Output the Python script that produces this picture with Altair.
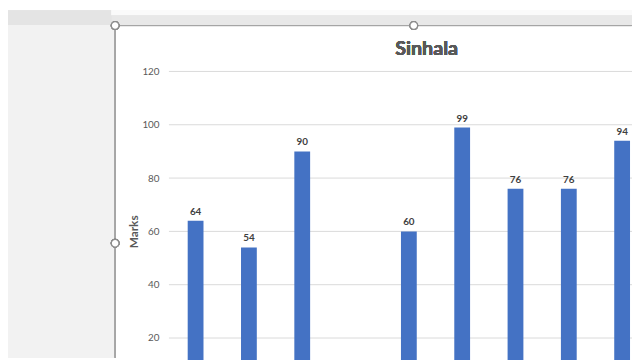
import altair as alt
import pandas as pd

# ---- data ----
students = ["S1", "S2", "S3", "S4", "S5", "S6", "S7", "S8", "S9"]
marks = [64, 54, 90, None, 60, 99, 76, 76, 94]
y_ticks = [0, 20, 40, 60, 80, 100, 120]
title_text = "Sinhala"
y_title = "Marks"

df = pd.DataFrame({"student": students, "marks": marks})
grid_df = pd.DataFrame({"v": y_ticks})

FONT = "Lato"
BAR = "#4472C4"
TXT = "#595959"

W, H = 469, 290

x_enc = alt.X("student:N", sort=students, axis=None,
              scale=alt.Scale(domain=students, range=[0, 486]))
y_scale = alt.Scale(domain=[0, 120], range=[324, 0], nice=False, zero=True)

base = alt.Chart(df)

grid = alt.Chart(grid_df).mark_rule(color="#d9d9d9", strokeWidth=1).encode(
    y=alt.Y("v:Q", scale=y_scale,
            axis=alt.Axis(values=y_ticks, grid=False, ticks=False, domain=False,
                          labelFont=FONT, labelFontSize=10, labelColor=TXT,
                          labelPadding=10, title=y_title, titleFont=FONT,
                          titleFontSize=12, titleFontWeight="bold", titleColor=TXT,
                          titleX=-29, titleY=162, titleAngle=-90,
                          titleBaseline="bottom", titleAlign="center")),
    x=alt.value(0), x2=alt.value(W + 30),
)

bars = base.mark_bar(color=BAR, size=16).encode(
    x=x_enc,
    y=alt.Y("marks:Q", scale=y_scale),
)

labels = base.mark_text(font=FONT, fontSize=10, fontWeight="bold", color="#404040",
                        baseline="alphabetic", dy=-6).encode(
    x=x_enc,
    y=alt.Y("marks:Q", scale=y_scale),
    text=alt.Text("marks:Q"),
)


def deco_rect(x, x2, y, y2, color):
    return alt.Chart(grid_df).mark_rect(color=color).encode(
        x=alt.value(x), x2=alt.value(x2), y=alt.value(y), y2=alt.value(y2))


def deco_rule(x, x2, y, y2, color):
    return alt.Chart(grid_df).mark_rule(color=color, strokeWidth=1).encode(
        x=alt.value(x), x2=alt.value(x2), y=alt.value(y), y2=alt.value(y2))


def handle(x, y):
    return alt.Chart(grid_df).mark_point(shape="circle", size=60, filled=True,
                                         fill="white", stroke="#8c8c8c",
                                         strokeWidth=1.2, opacity=1).encode(
        x=alt.value(x), y=alt.value(y))


frame = [
    deco_rect(-163, -58, -62, -47, "#e4e4e4"),
    deco_rect(-58, W, -62, -57, "#fafafa"),
    deco_rect(-58, W, -57, -47, "#e8e8e8"),
    deco_rect(-163, -55, -47, H, "#f2f2f2"),
    deco_rule(-54.5, -54.5, -47, H, "#a6a6a6"),
    deco_rule(-55, W, -46.5, -46.5, "#a6a6a6"),
    handle(-54.5, -46.5),
    handle(248, -46.5),
    handle(-54.5, 174),
]

title = alt.Chart(grid_df).mark_text(
    text=title_text, font=FONT, fontSize=20, fontWeight="bold", color=TXT,
    align="center", baseline="alphabetic").encode(
    x=alt.value(261), y=alt.value(-17))

chart = alt.layer(grid, bars, labels, title, *frame).properties(
    width=W, height=H,
    padding={"left": 163, "top": 62, "right": 0, "bottom": 0},
    autosize=alt.AutoSizeParams(type="none"),
    background="white",
).configure_view(stroke=None)

chart.save("out.html", embed_options={"renderer": "svg", "actions": False})
